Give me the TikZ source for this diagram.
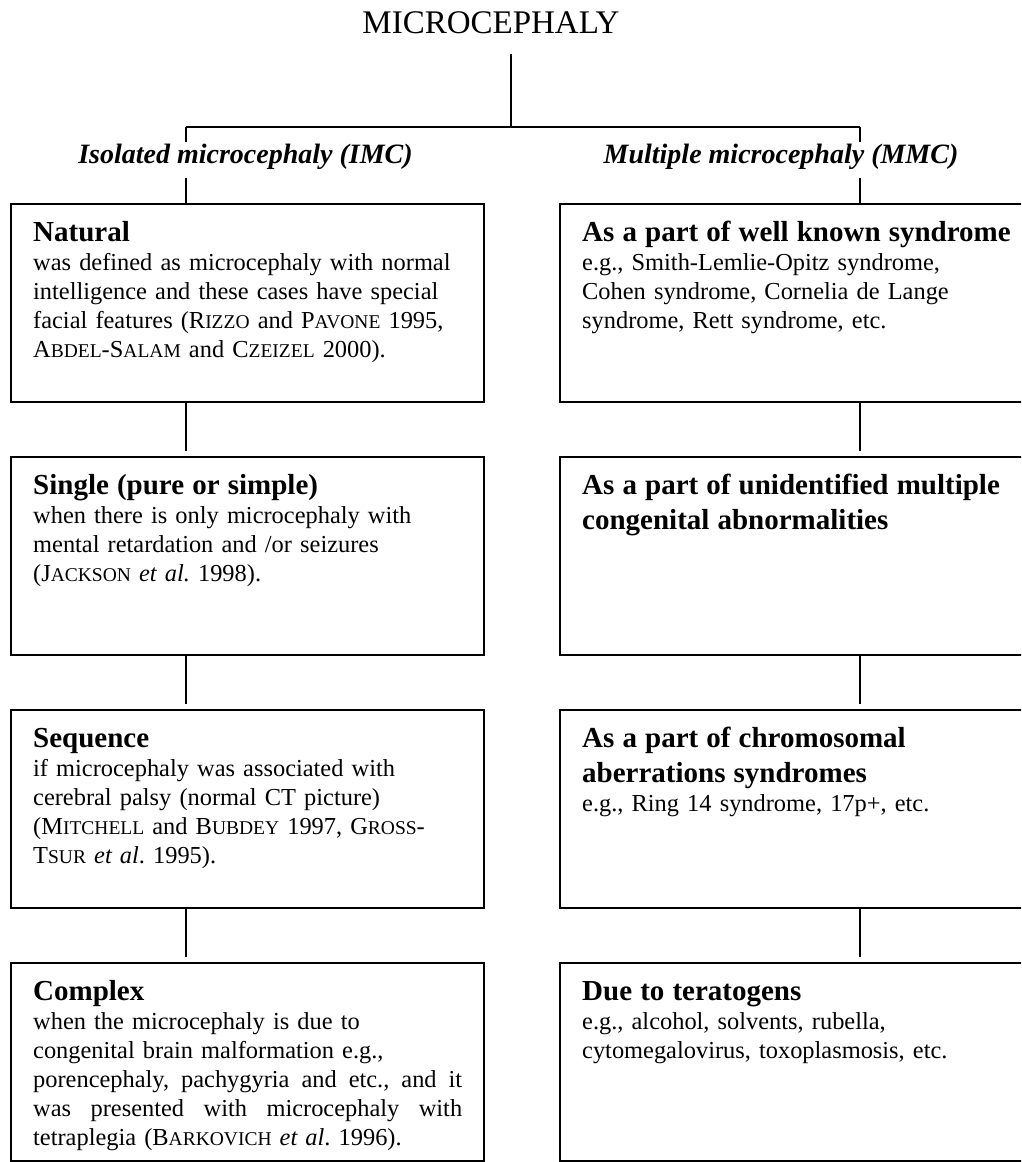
\documentclass[tikz,border=0pt]{standalone}
\usepackage{fontspec}
\setmainfont{Liberation Serif}
\usetikzlibrary{calc,positioning}
\newcommand{\sca}[1]{{\fontsize{19.5}{29}\selectfont #1}}
\newcommand{\hd}[1]{{\fontsize{29}{35}\selectfont\bfseries #1\par}}
\tikzset{
  box/.style={rectangle, draw=black, line width=2pt, outer sep=0pt, minimum width=473pt, minimum height=198pt, anchor=north west},
  txt/.style={anchor=base west, inner sep=0pt, text width=429pt, align=left, font=\fontsize{24.4}{29}\selectfont},
  txtr/.style={txt, text width=460pt},
  ttl/.style={anchor=base, inner sep=0pt, font=\fontsize{33}{38}\selectfont},
  lbl/.style={anchor=base, inner sep=0pt, font=\fontsize{28}{32}\selectfont\bfseries\itshape},
  line/.style={draw, line width=1.3pt},
}

\begin{document}
\begin{tikzpicture}[x=1pt, y=-1pt]
  \useasboundingbox (0,0) rectangle (1021,1162);
  \clip (0,0) rectangle (1021,1162);

  \node[ttl] (title) at (491,33) {MICROCEPHALY};
  \coordinate (root) at (511,127);
  \coordinate (ls) at (186,127);
  \coordinate (rs) at (860,127);
  \node[lbl] (imc) at (245.5,163) {Isolated microcephaly (IMC)};
  \node[lbl] (mmc) at (781,163) {Multiple microcephaly (MMC)};

  % boxes
  \node[box] (l1) at (11,204) {};
  \node[box, below=55pt of l1] (l2) {};
  \node[box, below=55pt of l2] (l3) {};
  \node[box, below=55pt of l3] (l4) {};
  \node[box] (r1) at (560,204) {};
  \node[box, below=55pt of r1] (r2) {};
  \node[box, below=55pt of r2] (r3) {};
  \node[box, below=55pt of r3] (r4) {};

  % texts
  \node[txt] (tl1) at ([shift={(22pt,-37pt)}]l1.north west) {\hd{Natural}
    was defined as microcephaly with normal\\
    intelligence and these cases have special\\
    facial features (R\sca{IZZO} and P\sca{AVONE} 1995,\\
    A\sca{BDEL}-S\sca{ALAM} and C\sca{ZEIZEL} 2000).};
  \node[txt] (tl2) at ([shift={(22pt,-37pt)}]l2.north west) {\hd{Single (pure or simple)}
    when there is only microcephaly with\\
    mental retardation and /or seizures\\
    (J\sca{ACKSON} \textit{et al.}\ 1998).};
  \node[txt] (tl3) at ([shift={(22pt,-37pt)}]l3.north west) {\hd{Sequence}
    if microcephaly was associated with\\
    cerebral palsy (normal CT picture)\\
    (M\sca{ITCHELL} and B\sca{UBDEY} 1997, G\sca{ROSS}-\\
    T\sca{SUR} \textit{et al}.\ 1995).};
  \node[txt] (tl4) at ([shift={(22pt,-37pt)}]l4.north west) {\hd{Complex}
    when the microcephaly is due to\\
    congenital brain malformation e.g.,\\
    porencephaly,\hfill pachygyria\hfill and\hfill etc.,\hfill and\hfill it\\
    was\hfill presented\hfill with\hfill microcephaly\hfill with\\
    tetraplegia (B\sca{ARKOVICH} \textit{et al}.\ 1996).};
  \node[txtr] (tr1) at ([shift={(22pt,-37pt)}]r1.north west) {\hd{As a part of well known syndrome}
    e.g., Smith-Lemlie-Opitz syndrome,\\
    Cohen syndrome, Cornelia de Lange\\
    syndrome, Rett syndrome, etc.};
  \node[txtr] (tr2) at ([shift={(22pt,-37pt)}]r2.north west) {\hd{As a part of unidentified multiple\\
    congenital abnormalities}};
  \node[txtr] (tr3) at ([shift={(22pt,-37pt)}]r3.north west) {\hd{As a part of chromosomal\\
    aberrations syndromes}
    e.g., Ring 14 syndrome, 17p+, etc.};
  \node[txtr] (tr4) at ([shift={(22pt,-37pt)}]r4.north west) {\hd{Due to teratogens}
    e.g., alcohol, solvents, rubella,\\
    cytomegalovirus, toxoplasmosis, etc.};

  % connectors
  \draw[line] ($(title.south -| root)+(0,20)$) -- (root);
  \draw[line] (ls) -- (rs);
  \draw[line] (ls) -- ++(0,15);
  \draw[line] (rs) -- ++(0,15);
  \draw[line] (ls |- l1.north) -- ++(0,-26);
  \draw[line] (rs |- r1.north) -- ++(0,-26);
  \foreach \a/\b in {l1/l2,l2/l3,l3/l4}
    \draw[line] (ls |- \a.south) -- ($(ls |- \b.north)+(0,-6)$);
  \foreach \a/\b in {r1/r2,r2/r3,r3/r4}
    \draw[line] (rs |- \a.south) -- ($(rs |- \b.north)+(0,-6)$);
\end{tikzpicture}
\end{document}
